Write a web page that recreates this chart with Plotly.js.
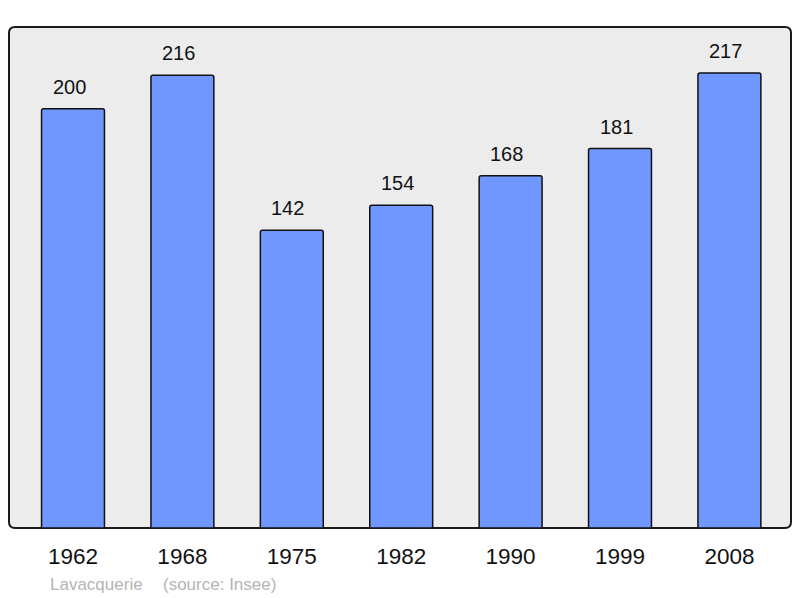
<!DOCTYPE html>
<html>
<head>
<meta charset="utf-8">
<script src="https://cdn.plot.ly/plotly-3.0.1.min.js"></script>
<style>
  html, body { margin: 0; padding: 0; background: #ffffff; }
  #chart { width: 800px; height: 598px; }
</style>
</head>
<body>
<div id="chart"></div>
<script>
const years = ['1962', '1968', '1975', '1982', '1990', '1999', '2008'];
const population = [200, 216, 142, 154, 168, 181, 217];
const townName = 'Lavacquerie';
const sourceText = '(source: Insee)';

const W = 800, H = 598;
const plotL = 9, plotR = 791, plotT = 27, plotB = 528;
const pw = plotR - plotL, ph = plotB - plotT;

// rounded frame path in paper coordinates
const r = 6;
const rx = r / pw, ry = r / ph;
const framePath =
  `M ${rx},0 L ${1 - rx},0 Q 1,0 1,${ry} L 1,${1 - ry} Q 1,1 ${1 - rx},1 ` +
  `L ${rx},1 Q 0,1 0,${1 - ry} L 0,${ry} Q 0,0 ${rx},0 Z`;

const font = 'Liberation Sans, Arial, sans-serif';

const trace = {
  type: 'bar',
  x: years,
  y: population,
  width: 0.575,
  marker: {
    color: '#7097ff',
    line: { color: '#111111', width: 1.5 },
    cornerradius: 2
  },
  hoverinfo: 'skip'
};

// category index positions for the value labels
const annotations = years.map((yr, i) => ({
  x: i, y: population[i], xref: 'x', yref: 'y',
  text: String(population[i]),
  showarrow: false,
  yanchor: 'middle',
  xshift: -4,
  yshift: 22,
  font: { family: font, size: 20, color: '#111111' }
}));

annotations.push({
  xref: 'paper', yref: 'paper',
  x: (48 - plotL) / pw, y: (plotB - 584) / ph,
  xanchor: 'left', yanchor: 'middle',
  text: townName, showarrow: false,
  font: { family: font, size: 17, color: '#b4b4b4' }
});
annotations.push({
  xref: 'paper', yref: 'paper',
  x: (161 - plotL) / pw, y: (plotB - 584) / ph,
  xanchor: 'left', yanchor: 'middle',
  text: sourceText, showarrow: false,
  font: { family: font, size: 17, color: '#b4b4b4' }
});

const layout = {
  width: W, height: H,
  margin: { l: plotL, r: W - plotR, t: plotT, b: H - plotB, pad: 0 },
  paper_bgcolor: '#ffffff',
  plot_bgcolor: 'rgba(0,0,0,0)',
  showlegend: false,
  xaxis: {
    type: 'category',
    range: [-0.585, 6.563],
    showgrid: false, zeroline: false, showline: false,
    ticks: '',
    ticklabelstandoff: 12,
    tickfont: { family: font, size: 22.5, color: '#111111' },
    fixedrange: true
  },
  yaxis: {
    range: [0, 239],
    visible: false,
    fixedrange: true
  },
  shapes: [{
    type: 'path', xref: 'paper', yref: 'paper',
    path: framePath,
    fillcolor: '#ececec',
    line: { color: '#1a1a1a', width: 2 },
    layer: 'below'
  }],
  annotations: annotations
};

Plotly.newPlot('chart', [trace], layout, { displayModeBar: false, staticPlot: true });
</script>
</body>
</html>
